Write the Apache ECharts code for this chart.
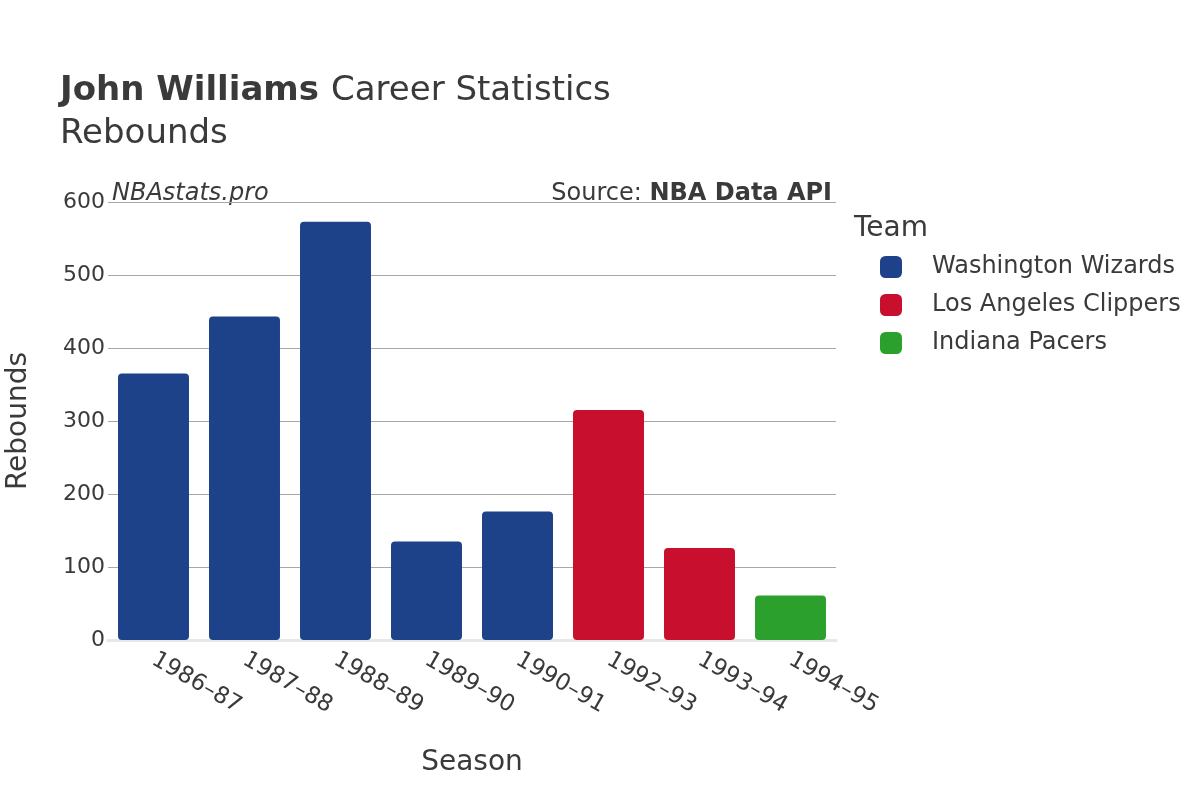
<!DOCTYPE html>
<html>
<head>
<meta charset="utf-8">
<script src="https://cdn.jsdelivr.net/npm/echarts@6/dist/echarts.min.js"></script>
<style>
  html, body { margin: 0; padding: 0; background: #fff; }
  #chart { width: 1200px; height: 800px; }
</style>
</head>
<body>
<div id="chart"></div>
<script>
// seasons and rebounds
var seasons = ["1986–87", "1987–88", "1988–89", "1989–90", "1990–91", "1992–93", "1993–94", "1994–95"];
var teams = ["Washington Wizards", "Los Angeles Clippers", "Indiana Pacers"];
var teamColors = ["#1d4289", "#c8102e", "#2ca02c"];
// which team each season belongs to
var seasonTeam = [0, 0, 0, 0, 0, 1, 1, 2];
var rebounds = [365, 443, 573, 135, 176, 315, 126, 61];
var yTicks = { min: 0, max: 600, interval: 100 };

var FONT = "DejaVu Sans";
var TXT = "#3a3a3a";

var chart = echarts.init(document.getElementById("chart"));

// one series per team, '-' where that team has no season
var series = teams.map(function (t, ti) {
    return {
        name: t,
        type: "bar",
        stack: "all",
        barWidth: "78%",
        itemStyle: { color: teamColors[ti], borderRadius: 4 },
        data: rebounds.map(function (v, i) { return seasonTeam[i] === ti ? v : "-"; })
    };
});

var option = {
    animation: false,
    textStyle: { fontFamily: FONT },
    grid: { left: 108, right: 364, top: 202, bottom: 160, outerBoundsMode: "none" },
    title: [
        {
            left: 55, top: 69,
            text: "{b|John Williams}{n|Career Statistics}",
            textStyle: {
                rich: {
                    b: { fontFamily: FONT, fontSize: 34, fontWeight: "bold", color: TXT },
                    n: { fontFamily: FONT, fontSize: 34, fontWeight: "normal", color: TXT, padding: [0, 0, 0, 12] }
                }
            }
        },
        {
            left: 55, top: 112,
            text: "Rebounds",
            textStyle: { fontFamily: FONT, fontSize: 34, fontWeight: "normal", color: TXT }
        }
    ],
    legend: {
        orient: "vertical",
        left: 875, top: 250,
        icon: "roundRect",
        itemWidth: 22, itemHeight: 22, itemGap: 14,
        textStyle: { fontFamily: FONT, fontSize: 24, color: TXT, padding: [0, 0, 0, 25] },
        data: teams
    },
    graphic: [
        { type: "text", left: 854, top: 215, style: { text: "Team", font: "28px 'DejaVu Sans'", fill: TXT } },
        { type: "text", left: 112, top: 182, style: { text: "NBAstats.pro", font: "italic 24px 'DejaVu Sans'", fill: TXT } },
        { type: "text", right: 368, top: 182, style: {
            text: "{a|Source: }{b|NBA Data API}",
            rich: {
                a: { fontFamily: FONT, fontSize: 24, fill: TXT },
                b: { fontFamily: FONT, fontSize: 24, fontWeight: "bold", fill: TXT }
            }
        } }
    ],
    xAxis: {
        type: "category",
        data: seasons,
        name: "Season",
        nameLocation: "middle",
        nameGap: 109,
        nameTextStyle: { fontFamily: FONT, fontSize: 28, color: TXT },
        axisTick: { show: false },
        axisLine: { lineStyle: { color: "#e8e8e8", width: 3 } },
        axisLabel: { rotate: -30, fontFamily: FONT, fontSize: 23, color: TXT, margin: 18 }
    },
    yAxis: {
        type: "value",
        min: yTicks.min, max: yTicks.max, interval: yTicks.interval,
        name: "Rebounds",
        nameLocation: "middle",
        nameGap: 75,
        nameTextStyle: { fontFamily: FONT, fontSize: 28, color: TXT },
        axisLine: { show: false },
        axisTick: { show: false },
        axisLabel: { fontFamily: FONT, fontSize: 22, color: TXT, margin: 3, padding: [5, 0, 0, 0] },
        splitLine: { lineStyle: { color: "#a8a8a8", width: 1 } }
    },
    series: series
};

chart.setOption(option);
</script>
</body>
</html>
